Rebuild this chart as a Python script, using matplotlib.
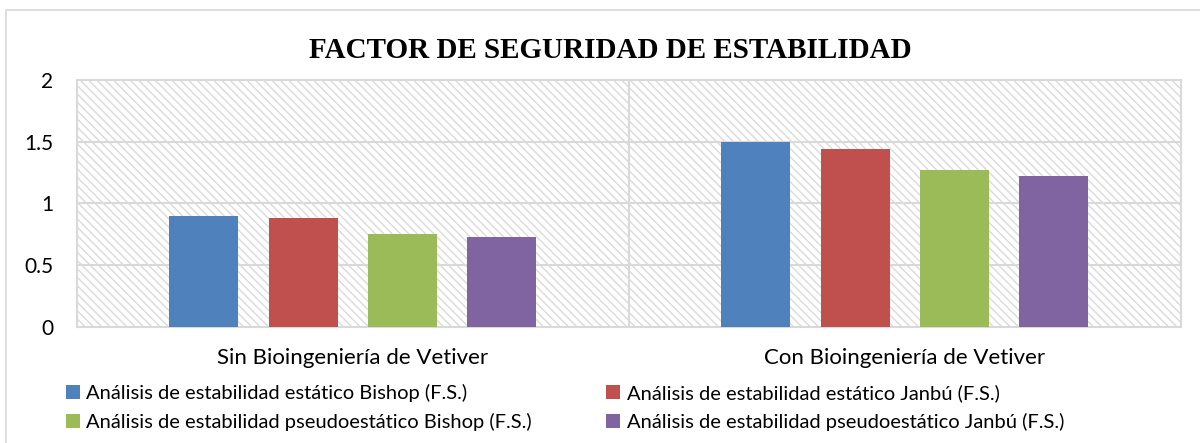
import matplotlib.pyplot as plt
from matplotlib.patches import Rectangle, Patch
import numpy as np

categories = ["Sin Bioingeniería de Vetiver", "Con Bioingeniería de Vetiver"]
series_names = [
    "Análisis de estabilidad estático Bishop (F.S.)",
    "Análisis de estabilidad estático Janbú (F.S.)",
    "Análisis de estabilidad pseudoestático Bishop (F.S.)",
    "Análisis de estabilidad pseudoestático Janbú (F.S.)",
]
bishop_est = [0.90, 1.50]
janbu_est = [0.88, 1.44]
bishop_pseudo = [0.75, 1.27]
janbu_pseudo = [0.73, 1.22]
yticks = [0, 0.5, 1, 1.5, 2]
ytick_labels = ["0", "0.5", "1", "1.5", "2"]

colors = ["#4f81bd", "#c0504d", "#9bbb59", "#8064a2"]
values = [bishop_est, janbu_est, bishop_pseudo, janbu_pseudo]

plt.rcParams['font.family'] = ['Lato', 'DejaVu Sans']
plt.rcParams['hatch.linewidth'] = 1.0

fig = plt.figure(figsize=(12, 4.43), dpi=100)
ax = fig.add_axes([0.0642, 0.2619, 0.9198, 0.5575])

# outer chart frame
fig.patches.append(Rectangle((0.005, -0.05), 1.1, 1.027, transform=fig.transFigure,
                             fill=False, edgecolor='#d9d9d9', linewidth=1.2))

# hatched plot background
ax.set_facecolor('white')
ax.add_patch(Rectangle((0, 0), 1, 1, transform=ax.transAxes, facecolor='white',
                       edgecolor='#dadada', linewidth=0, hatch='\\\\\\\\', zorder=0))

x = np.arange(len(categories))
slot = 0.18
width = 0.125
for i, (vals, col) in enumerate(zip(values, colors)):
    ax.bar(x + (i - 1.5) * slot, vals, width, color=col, zorder=3, label=series_names[i])

ax.set_xlim(-0.5, 1.5)
ax.set_ylim(0, 2)
ax.set_yticks(yticks)
ax.set_yticklabels(ytick_labels, fontsize=15)
ax.set_xticks(x)
ax.set_xticklabels(categories, fontsize=16)
ax.tick_params(length=0)
ax.tick_params(axis='y', pad=17)
ax.tick_params(axis='x', pad=15)

for y in yticks[1:4]:
    ax.axhline(y, color='#d9d9d9', linewidth=1.5, zorder=1)
ax.axvline(0.5, color='#d9d9d9', linewidth=1.5, zorder=1)
for s in ax.spines.values():
    s.set_color('#d9d9d9')
    s.set_linewidth(1.5)

fig.text(0.509, 0.887, "FACTOR DE SEGURIDAD DE ESTABILIDAD", ha='center', va='center',
         fontsize=21, fontweight='bold', family=['Liberation Serif', 'DejaVu Serif'])

handles = [Patch(facecolor=c, edgecolor='none') for c in colors]
order = [0, 2, 1, 3]
fig.legend([handles[k] for k in order], [series_names[k] for k in order],
           ncol=2, loc='center left', bbox_to_anchor=(0.040, 0.080), frameon=False,
           fontsize=14.5, handlelength=0.7, handleheight=0.7, handletextpad=0.3,
           columnspacing=3.7, labelspacing=0.55)

fig.savefig('out.png', dpi=100)
